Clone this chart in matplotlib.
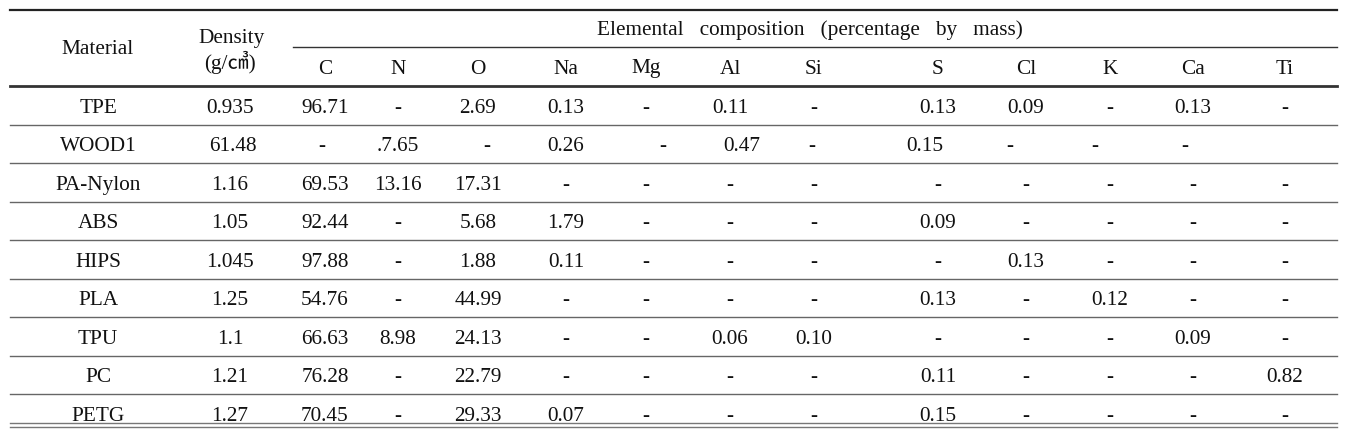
import matplotlib.pyplot as plt
from matplotlib.lines import Line2D

plt.rcParams["font.family"] = ["Liberation Serif", "Noto Sans CJK KR"]

materials = ["TPE", "WOOD1", "PA-Nylon", "ABS", "HIPS", "PLA", "TPU", "PC", "PETG"]
density = ["0.935", "61.48", "1.16", "1.05", "1.045", "1.25", "1.1", "1.21", "1.27"]
elements = ["C", "N", "O", "Na", "Mg", "Al", "Si", "S", "Cl", "K", "Ca", "Ti"]
composition = [
    ["96.71", "-", "2.69", "0.13", "-", "0.11", "-", "0.13", "0.09", "-", "0.13", "-"],
    ["-", ".7.65", "-", "0.26", "-", "0.47", "-", "0.15", "-", "-", "-", ""],
    ["69.53", "13.16", "17.31", "-", "-", "-", "-", "-", "-", "-", "-", "-"],
    ["92.44", "-", "5.68", "1.79", "-", "-", "-", "0.09", "-", "-", "-", "-"],
    ["97.88", "-", "1.88", "0.11", "-", "-", "-", "-", "0.13", "-", "-", "-"],
    ["54.76", "-", "44.99", "-", "-", "-", "-", "0.13", "-", "0.12", "-", "-"],
    ["66.63", "8.98", "24.13", "-", "-", "0.06", "0.10", "-", "-", "-", "0.09", "-"],
    ["76.28", "-", "22.79", "-", "-", "-", "-", "0.11", "-", "-", "-", "0.82"],
    ["70.45", "-", "29.33", "0.07", "-", "-", "-", "0.15", "-", "-", "-", "-"],
]

# layout in pixel units
W, H = 1347, 430
left, right = 10, 1337
col_x = [98, 230, 325, 398, 478, 566, 646, 730, 814, 938, 1026, 1110, 1193, 1285]
# the WOOD1 row sits slightly off its columns in the source
wood_shift = [-3, 0, 9, 0, 17, 12, -2, -13, -16, -15, -8, 0]
row_top = 86
row_h = 38.5
fs = 15.3
dy = 3  # va="center" sits a little high, nudge text down

fig = plt.figure(figsize=(W / 100, H / 100), dpi=100)
ax = fig.add_axes([0, 0, 1, 1])
ax.set_xlim(0, W)
ax.set_ylim(H, 0)
ax.axis("off")


def hline(y, x0=left, x1=right, lw=1.0, color="#555555"):
    ax.add_line(Line2D([x0, x1], [y, y], lw=lw, color=color))


def cell(x, y, s):
    ax.text(x, y + dy, s, ha="center", va="center", fontsize=fs, color="#111111")


# header
hline(10, lw=1.6, color="#222222")
hline(47, x0=293, lw=1.0, color="#333333")
hline(row_top, lw=2.0, color="#333333")
cell(col_x[0], 46, "Material")
cell(col_x[1] + 2, 36, "Density")
cell(col_x[1], 59, "(g/㎤)")
cell((col_x[2] + col_x[-1]) / 2 + 5, 27,
     "Elemental   composition   (percentage   by   mass)")
for x, el in zip(col_x[2:], elements):
    cell(x, 66, el)

# body
for i, (mat, dens, vals) in enumerate(zip(materials, density, composition)):
    yc = row_top + row_h * (i + 0.5)
    cell(col_x[0], yc, mat)
    cell(col_x[1] + (3 if mat == "WOOD1" else 0), yc, dens)
    for j, v in enumerate(vals):
        x = col_x[j + 2] + (wood_shift[j] if mat == "WOOD1" else 0)
        cell(x, yc, v)
    if i < len(materials) - 1:
        hline(row_top + row_h * (i + 1), lw=1.0, color="#666666")

# bottom double rule
hline(423, lw=1.0, color="#777777")
hline(427, lw=1.0, color="#777777")

fig.savefig("out.png", dpi=100)
